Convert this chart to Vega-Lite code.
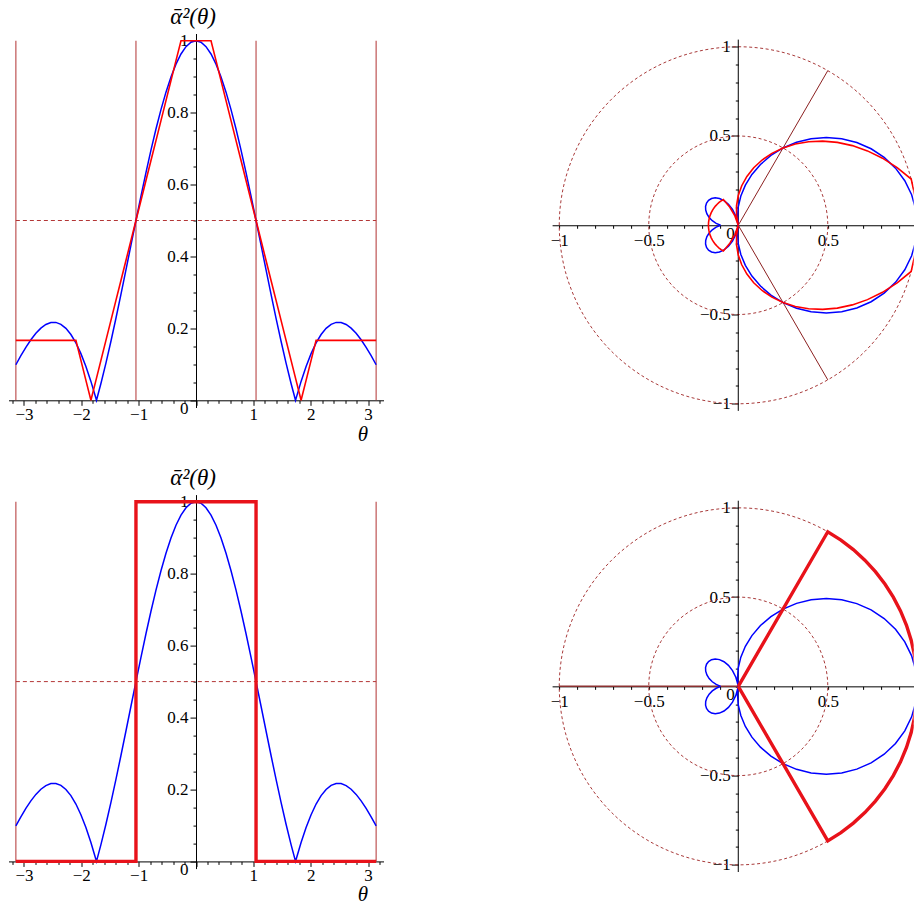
{
"$schema": "https://vega.github.io/schema/vega-lite/v6.json",
"padding": {"left": 8.5, "top": 5.5, "right": 0, "bottom": 0},
"config": {
  "view": {"stroke": null},
  "font": "Liberation Serif",
  "axis": {"title": null, "grid": false, "domainColor": "#000", "domainWidth": 1, "tickColor": "#000", "tickWidth": 1, "labelFont": "Liberation Serif", "labelFontSize": 17, "labelColor": "#000", "labelOverlap": false, "labelFlush": false, "labelBound": false}
},
"bounds": "flush",
"columns": 2,
"spacing": {"row": 83.1, "column": 168.6},
"datasets": {
  "blue": [
    {"deg":-180,"t":-3.1416,"v":0.09886,"x":-0.09886,"y":0},
    {"deg":-175,"t":-3.0543,"v":0.12395,"x":-0.12348,"y":-0.0108},
    {"deg":-170,"t":-2.9671,"v":0.14734,"x":-0.1451,"y":-0.02559},
    {"deg":-165,"t":-2.8798,"v":0.16837,"x":-0.16263,"y":-0.04358},
    {"deg":-160,"t":-2.7925,"v":0.18639,"x":-0.17515,"y":-0.06375},
    {"deg":-155,"t":-2.7053,"v":0.20078,"x":-0.18197,"y":-0.08485},
    {"deg":-150,"t":-2.618,"v":0.21097,"x":-0.18271,"y":-0.10549},
    {"deg":-145,"t":-2.5307,"v":0.21642,"x":-0.17728,"y":-0.12413},
    {"deg":-140,"t":-2.4435,"v":0.21668,"x":-0.16599,"y":-0.13928},
    {"deg":-135,"t":-2.3562,"v":0.21137,"x":-0.14946,"y":-0.14946},
    {"deg":-130,"t":-2.2689,"v":0.20019,"x":-0.12868,"y":-0.15335},
    {"deg":-125,"t":-2.1817,"v":0.18292,"x":-0.10492,"y":-0.14984},
    {"deg":-120,"t":-2.0944,"v":0.15948,"x":-0.07974,"y":-0.13811},
    {"deg":-115,"t":-2.0071,"v":0.12985,"x":-0.05488,"y":-0.11769},
    {"deg":-110,"t":-1.9199,"v":0.09415,"x":-0.0322,"y":-0.08847},
    {"deg":-105,"t":-1.8326,"v":0.0526,"x":-0.01361,"y":-0.05081},
    {"deg":-100,"t":-1.7453,"v":0.00551,"x":-0.00096,"y":-0.00543},
    {"deg":-99.45,"t":-1.7357,"v":0,"x":0,"y":0},
    {"deg":-95,"t":-1.6581,"v":0.04668,"x":-0.00407,"y":-0.0465},
    {"deg":-90,"t":-1.5708,"v":0.10344,"x":0,"y":-0.10344},
    {"deg":-85,"t":-1.4835,"v":0.16415,"x":0.01431,"y":-0.16353},
    {"deg":-80,"t":-1.3963,"v":0.2281,"x":0.03961,"y":-0.22464},
    {"deg":-75,"t":-1.309,"v":0.29453,"x":0.07623,"y":-0.2845},
    {"deg":-70,"t":-1.2217,"v":0.36259,"x":0.12401,"y":-0.34072},
    {"deg":-65,"t":-1.1345,"v":0.4314,"x":0.18232,"y":-0.39098},
    {"deg":-60,"t":-1.0472,"v":0.50004,"x":0.25002,"y":-0.43305},
    {"deg":-55,"t":-0.9599,"v":0.56758,"x":0.32555,"y":-0.46493},
    {"deg":-50,"t":-0.8727,"v":0.63309,"x":0.40694,"y":-0.48498},
    {"deg":-45,"t":-0.7854,"v":0.69564,"x":0.49189,"y":-0.49189},
    {"deg":-40,"t":-0.6981,"v":0.75434,"x":0.57786,"y":-0.48488},
    {"deg":-35,"t":-0.6109,"v":0.80835,"x":0.66216,"y":-0.46365},
    {"deg":-30,"t":-0.5236,"v":0.85689,"x":0.7421,"y":-0.42845},
    {"deg":-25,"t":-0.4363,"v":0.89925,"x":0.815,"y":-0.38004},
    {"deg":-20,"t":-0.3491,"v":0.93479,"x":0.87841,"y":-0.31972},
    {"deg":-15,"t":-0.2618,"v":0.963,"x":0.93019,"y":-0.24924},
    {"deg":-10,"t":-0.1745,"v":0.98345,"x":0.96851,"y":-0.17078},
    {"deg":-5,"t":-0.0873,"v":0.99585,"x":0.99206,"y":-0.0868},
    {"deg":0,"t":0,"v":1,"x":1,"y":0},
    {"deg":5,"t":0.0873,"v":0.99585,"x":0.99206,"y":0.0868},
    {"deg":10,"t":0.1745,"v":0.98345,"x":0.96851,"y":0.17078},
    {"deg":15,"t":0.2618,"v":0.963,"x":0.93019,"y":0.24924},
    {"deg":20,"t":0.3491,"v":0.93479,"x":0.87841,"y":0.31972},
    {"deg":25,"t":0.4363,"v":0.89925,"x":0.815,"y":0.38004},
    {"deg":30,"t":0.5236,"v":0.85689,"x":0.7421,"y":0.42845},
    {"deg":35,"t":0.6109,"v":0.80835,"x":0.66216,"y":0.46365},
    {"deg":40,"t":0.6981,"v":0.75434,"x":0.57786,"y":0.48488},
    {"deg":45,"t":0.7854,"v":0.69564,"x":0.49189,"y":0.49189},
    {"deg":50,"t":0.8727,"v":0.63309,"x":0.40694,"y":0.48498},
    {"deg":55,"t":0.9599,"v":0.56758,"x":0.32555,"y":0.46493},
    {"deg":60,"t":1.0472,"v":0.50004,"x":0.25002,"y":0.43305},
    {"deg":65,"t":1.1345,"v":0.4314,"x":0.18232,"y":0.39098},
    {"deg":70,"t":1.2217,"v":0.36259,"x":0.12401,"y":0.34072},
    {"deg":75,"t":1.309,"v":0.29453,"x":0.07623,"y":0.2845},
    {"deg":80,"t":1.3963,"v":0.2281,"x":0.03961,"y":0.22464},
    {"deg":85,"t":1.4835,"v":0.16415,"x":0.01431,"y":0.16353},
    {"deg":90,"t":1.5708,"v":0.10344,"x":0,"y":0.10344},
    {"deg":95,"t":1.6581,"v":0.04668,"x":-0.00407,"y":0.0465},
    {"deg":99.45,"t":1.7357,"v":0,"x":0,"y":0},
    {"deg":100,"t":1.7453,"v":0.00551,"x":-0.00096,"y":0.00543},
    {"deg":105,"t":1.8326,"v":0.0526,"x":-0.01361,"y":0.05081},
    {"deg":110,"t":1.9199,"v":0.09415,"x":-0.0322,"y":0.08847},
    {"deg":115,"t":2.0071,"v":0.12985,"x":-0.05488,"y":0.11769},
    {"deg":120,"t":2.0944,"v":0.15948,"x":-0.07974,"y":0.13811},
    {"deg":125,"t":2.1817,"v":0.18292,"x":-0.10492,"y":0.14984},
    {"deg":130,"t":2.2689,"v":0.20019,"x":-0.12868,"y":0.15335},
    {"deg":135,"t":2.3562,"v":0.21137,"x":-0.14946,"y":0.14946},
    {"deg":140,"t":2.4435,"v":0.21668,"x":-0.16599,"y":0.13928},
    {"deg":145,"t":2.5307,"v":0.21642,"x":-0.17728,"y":0.12413},
    {"deg":150,"t":2.618,"v":0.21097,"x":-0.18271,"y":0.10549},
    {"deg":155,"t":2.7053,"v":0.20078,"x":-0.18197,"y":0.08485},
    {"deg":160,"t":2.7925,"v":0.18639,"x":-0.17515,"y":0.06375},
    {"deg":165,"t":2.8798,"v":0.16837,"x":-0.16263,"y":0.04358},
    {"deg":170,"t":2.9671,"v":0.14734,"x":-0.1451,"y":0.02559},
    {"deg":175,"t":3.0543,"v":0.12395,"x":-0.12348,"y":0.0108},
    {"deg":180,"t":3.1416,"v":0.09886,"x":-0.09886,"y":0}
  ],
  "redA": [
    {"deg":-180,"t":-3.1416,"v":0.16667,"x":-0.16667,"y":0},
    {"deg":-175,"t":-3.0543,"v":0.16667,"x":-0.16603,"y":-0.01453},
    {"deg":-170,"t":-2.9671,"v":0.16667,"x":-0.16414,"y":-0.02894},
    {"deg":-165,"t":-2.8798,"v":0.16667,"x":-0.16099,"y":-0.04314},
    {"deg":-160,"t":-2.7925,"v":0.16667,"x":-0.15662,"y":-0.057},
    {"deg":-155,"t":-2.7053,"v":0.16667,"x":-0.15105,"y":-0.07044},
    {"deg":-150,"t":-2.618,"v":0.16667,"x":-0.14434,"y":-0.08333},
    {"deg":-145,"t":-2.5307,"v":0.16667,"x":-0.13653,"y":-0.0956},
    {"deg":-140,"t":-2.4435,"v":0.16667,"x":-0.12767,"y":-0.10713},
    {"deg":-135,"t":-2.3562,"v":0.16667,"x":-0.11785,"y":-0.11785},
    {"deg":-130,"t":-2.2689,"v":0.16667,"x":-0.10713,"y":-0.12767},
    {"deg":-125,"t":-2.1817,"v":0.16667,"x":-0.0956,"y":-0.13653},
    {"deg":-120,"t":-2.0944,"v":0.16667,"x":-0.08333,"y":-0.14434},
    {"deg":-115,"t":-2.0071,"v":0.11111,"x":-0.04696,"y":-0.1007},
    {"deg":-110,"t":-1.9199,"v":0.05556,"x":-0.019,"y":-0.05221},
    {"deg":-105,"t":-1.8326,"v":0,"x":0,"y":0},
    {"deg":-100,"t":-1.7453,"v":0.05556,"x":-0.00965,"y":-0.05471},
    {"deg":-95,"t":-1.6581,"v":0.11111,"x":-0.00968,"y":-0.11069},
    {"deg":-90,"t":-1.5708,"v":0.16667,"x":0,"y":-0.16667},
    {"deg":-85,"t":-1.4835,"v":0.22222,"x":0.01937,"y":-0.22138},
    {"deg":-80,"t":-1.3963,"v":0.27778,"x":0.04824,"y":-0.27356},
    {"deg":-75,"t":-1.309,"v":0.33333,"x":0.08627,"y":-0.32198},
    {"deg":-70,"t":-1.2217,"v":0.38889,"x":0.13301,"y":-0.36543},
    {"deg":-65,"t":-1.1345,"v":0.44444,"x":0.18783,"y":-0.4028},
    {"deg":-60,"t":-1.0472,"v":0.5,"x":0.25,"y":-0.43301},
    {"deg":-55,"t":-0.9599,"v":0.55556,"x":0.31866,"y":-0.45508},
    {"deg":-50,"t":-0.8727,"v":0.61111,"x":0.39282,"y":-0.46814},
    {"deg":-45,"t":-0.7854,"v":0.66667,"x":0.4714,"y":-0.4714},
    {"deg":-40,"t":-0.6981,"v":0.72222,"x":0.55325,"y":-0.46424},
    {"deg":-35,"t":-0.6109,"v":0.77778,"x":0.63712,"y":-0.44612},
    {"deg":-30,"t":-0.5236,"v":0.83333,"x":0.72169,"y":-0.41667},
    {"deg":-25,"t":-0.4363,"v":0.88889,"x":0.80561,"y":-0.37566},
    {"deg":-20,"t":-0.3491,"v":0.94444,"x":0.88748,"y":-0.32302},
    {"deg":-15,"t":-0.2618,"v":1,"x":0.96593,"y":-0.25882},
    {"deg":-10,"t":-0.1745,"v":1,"x":0.98481,"y":-0.17365},
    {"deg":-5,"t":-0.0873,"v":1,"x":0.99619,"y":-0.08716},
    {"deg":0,"t":0,"v":1,"x":1,"y":0},
    {"deg":5,"t":0.0873,"v":1,"x":0.99619,"y":0.08716},
    {"deg":10,"t":0.1745,"v":1,"x":0.98481,"y":0.17365},
    {"deg":15,"t":0.2618,"v":1,"x":0.96593,"y":0.25882},
    {"deg":20,"t":0.3491,"v":0.94444,"x":0.88748,"y":0.32302},
    {"deg":25,"t":0.4363,"v":0.88889,"x":0.80561,"y":0.37566},
    {"deg":30,"t":0.5236,"v":0.83333,"x":0.72169,"y":0.41667},
    {"deg":35,"t":0.6109,"v":0.77778,"x":0.63712,"y":0.44612},
    {"deg":40,"t":0.6981,"v":0.72222,"x":0.55325,"y":0.46424},
    {"deg":45,"t":0.7854,"v":0.66667,"x":0.4714,"y":0.4714},
    {"deg":50,"t":0.8727,"v":0.61111,"x":0.39282,"y":0.46814},
    {"deg":55,"t":0.9599,"v":0.55556,"x":0.31866,"y":0.45508},
    {"deg":60,"t":1.0472,"v":0.5,"x":0.25,"y":0.43301},
    {"deg":65,"t":1.1345,"v":0.44444,"x":0.18783,"y":0.4028},
    {"deg":70,"t":1.2217,"v":0.38889,"x":0.13301,"y":0.36543},
    {"deg":75,"t":1.309,"v":0.33333,"x":0.08627,"y":0.32198},
    {"deg":80,"t":1.3963,"v":0.27778,"x":0.04824,"y":0.27356},
    {"deg":85,"t":1.4835,"v":0.22222,"x":0.01937,"y":0.22138},
    {"deg":90,"t":1.5708,"v":0.16667,"x":0,"y":0.16667},
    {"deg":95,"t":1.6581,"v":0.11111,"x":-0.00968,"y":0.11069},
    {"deg":100,"t":1.7453,"v":0.05556,"x":-0.00965,"y":0.05471},
    {"deg":105,"t":1.8326,"v":0,"x":0,"y":0},
    {"deg":110,"t":1.9199,"v":0.05556,"x":-0.019,"y":0.05221},
    {"deg":115,"t":2.0071,"v":0.11111,"x":-0.04696,"y":0.1007},
    {"deg":120,"t":2.0944,"v":0.16667,"x":-0.08333,"y":0.14434},
    {"deg":125,"t":2.1817,"v":0.16667,"x":-0.0956,"y":0.13653},
    {"deg":130,"t":2.2689,"v":0.16667,"x":-0.10713,"y":0.12767},
    {"deg":135,"t":2.3562,"v":0.16667,"x":-0.11785,"y":0.11785},
    {"deg":140,"t":2.4435,"v":0.16667,"x":-0.12767,"y":0.10713},
    {"deg":145,"t":2.5307,"v":0.16667,"x":-0.13653,"y":0.0956},
    {"deg":150,"t":2.618,"v":0.16667,"x":-0.14434,"y":0.08333},
    {"deg":155,"t":2.7053,"v":0.16667,"x":-0.15105,"y":0.07044},
    {"deg":160,"t":2.7925,"v":0.16667,"x":-0.15662,"y":0.057},
    {"deg":165,"t":2.8798,"v":0.16667,"x":-0.16099,"y":0.04314},
    {"deg":170,"t":2.9671,"v":0.16667,"x":-0.16414,"y":0.02894},
    {"deg":175,"t":3.0543,"v":0.16667,"x":-0.16603,"y":0.01453},
    {"deg":180,"t":3.1416,"v":0.16667,"x":-0.16667,"y":0}
  ],
  "redBcart": [
    {"i":0,"t":-3.1416,"v":0},
    {"i":1,"t":-1.0472,"v":0},
    {"i":2,"t":-1.0472,"v":1},
    {"i":3,"t":1.0472,"v":1},
    {"i":4,"t":1.0472,"v":0},
    {"i":5,"t":3.1416,"v":0}
  ],
  "redBpolar": [
    {"i":0,"x":0,"y":0},
    {"i":1,"x":0.5,"y":0.86603},
    {"i":2,"x":0.57358,"y":0.81915},
    {"i":3,"x":0.64279,"y":0.76604},
    {"i":4,"x":0.70711,"y":0.70711},
    {"i":5,"x":0.76604,"y":0.64279},
    {"i":6,"x":0.81915,"y":0.57358},
    {"i":7,"x":0.86603,"y":0.5},
    {"i":8,"x":0.90631,"y":0.42262},
    {"i":9,"x":0.93969,"y":0.34202},
    {"i":10,"x":0.96593,"y":0.25882},
    {"i":11,"x":0.98481,"y":0.17365},
    {"i":12,"x":0.99619,"y":0.08716},
    {"i":13,"x":1,"y":0},
    {"i":14,"x":0.99619,"y":-0.08716},
    {"i":15,"x":0.98481,"y":-0.17365},
    {"i":16,"x":0.96593,"y":-0.25882},
    {"i":17,"x":0.93969,"y":-0.34202},
    {"i":18,"x":0.90631,"y":-0.42262},
    {"i":19,"x":0.86603,"y":-0.5},
    {"i":20,"x":0.81915,"y":-0.57358},
    {"i":21,"x":0.76604,"y":-0.64279},
    {"i":22,"x":0.70711,"y":-0.70711},
    {"i":23,"x":0.64279,"y":-0.76604},
    {"i":24,"x":0.57358,"y":-0.81915},
    {"i":25,"x":0.5,"y":-0.86603},
    {"i":26,"x":0,"y":0}
  ],
  "circ": [
    {"r":1,"a":0,"x":1,"y":0},{"r":1,"a":15,"x":0.96593,"y":0.25882},{"r":1,"a":30,"x":0.86603,"y":0.5},{"r":1,"a":45,"x":0.70711,"y":0.70711},
    {"r":1,"a":60,"x":0.5,"y":0.86603},{"r":1,"a":75,"x":0.25882,"y":0.96593},{"r":1,"a":90,"x":0,"y":1},{"r":1,"a":105,"x":-0.25882,"y":0.96593},
    {"r":1,"a":120,"x":-0.5,"y":0.86603},{"r":1,"a":135,"x":-0.70711,"y":0.70711},{"r":1,"a":150,"x":-0.86603,"y":0.5},{"r":1,"a":165,"x":-0.96593,"y":0.25882},
    {"r":1,"a":180,"x":-1,"y":0},{"r":1,"a":195,"x":-0.96593,"y":-0.25882},{"r":1,"a":210,"x":-0.86603,"y":-0.5},{"r":1,"a":225,"x":-0.70711,"y":-0.70711},
    {"r":1,"a":240,"x":-0.5,"y":-0.86603},{"r":1,"a":255,"x":-0.25882,"y":-0.96593},{"r":1,"a":270,"x":0,"y":-1},{"r":1,"a":285,"x":0.25882,"y":-0.96593},
    {"r":1,"a":300,"x":0.5,"y":-0.86603},{"r":1,"a":315,"x":0.70711,"y":-0.70711},{"r":1,"a":330,"x":0.86603,"y":-0.5},{"r":1,"a":345,"x":0.96593,"y":-0.25882},
    {"r":0.5,"a":0,"x":0.5,"y":0},{"r":0.5,"a":15,"x":0.48296,"y":0.12941},{"r":0.5,"a":30,"x":0.43301,"y":0.25},{"r":0.5,"a":45,"x":0.35355,"y":0.35355},
    {"r":0.5,"a":60,"x":0.25,"y":0.43301},{"r":0.5,"a":75,"x":0.12941,"y":0.48296},{"r":0.5,"a":90,"x":0,"y":0.5},{"r":0.5,"a":105,"x":-0.12941,"y":0.48296},
    {"r":0.5,"a":120,"x":-0.25,"y":0.43301},{"r":0.5,"a":135,"x":-0.35355,"y":0.35355},{"r":0.5,"a":150,"x":-0.43301,"y":0.25},{"r":0.5,"a":165,"x":-0.48296,"y":0.12941},
    {"r":0.5,"a":180,"x":-0.5,"y":0},{"r":0.5,"a":195,"x":-0.48296,"y":-0.12941},{"r":0.5,"a":210,"x":-0.43301,"y":-0.25},{"r":0.5,"a":225,"x":-0.35355,"y":-0.35355},
    {"r":0.5,"a":240,"x":-0.25,"y":-0.43301},{"r":0.5,"a":255,"x":-0.12941,"y":-0.48296},{"r":0.5,"a":270,"x":0,"y":-0.5},{"r":0.5,"a":285,"x":0.12941,"y":-0.48296},
    {"r":0.5,"a":300,"x":0.25,"y":-0.43301},{"r":0.5,"a":315,"x":0.35355,"y":-0.35355},{"r":0.5,"a":330,"x":0.43301,"y":-0.25},{"r":0.5,"a":345,"x":0.48296,"y":-0.12941}
  ],
  "raysA": [{"x":0,"y":0,"x2":0.5,"y2":0.86603},{"x":0,"y":0,"x2":0.5,"y2":-0.86603}],
  "raysB": [{"x":0,"y":0,"x2":0.5,"y2":0.86603},{"x":0,"y":0,"x2":0.5,"y2":-0.86603},{"x":0,"y":0,"x2":-1,"y2":0}],
  "yaxis": [{"x":0,"y":-1.04,"y2":1.04}],
  "vlines": [{"t":-3.1416,"v":0,"v2":1},{"t":-1.0472,"v":0,"v2":1},{"t":1.0472,"v":0,"v2":1},{"t":3.1416,"v":0,"v2":1}],
  "hline": [{"t":-3.1416,"t2":3.1416,"v":0.5}],
  "ttl": [{"t":-0.05,"v":1.02,"label":"ᾱ²(θ)"}],
  "thl": [{"t":2.91,"v":0,"label":"θ"}]
},
"concat": [
  {
    "width": 375, "height": 374,
    "encoding": {
      "x": {"field": "t", "type": "quantitative", "scale": {"domain": [-3.27, 3.27], "nice": false, "zero": false},
        "axis": {"orient": "bottom", "offset": -7.19, "values": [-3.2,-3,-2.8,-2.6,-2.4,-2.2,-2,-1.8,-1.6,-1.4,-1.2,-1,-0.8,-0.6,-0.4,-0.2,0,0.2,0.4,0.6,0.8,1,1.2,1.4,1.6,1.8,2,2.2,2.4,2.6,2.8,3,3.2],
          "labelExpr": "abs(datum.value-round(datum.value))<0.001 && abs(datum.value)>0.001 ? format(datum.value,'d') : ''",
          "tickSize": {"condition": {"test": "abs(datum.value-round(datum.value))<0.001", "value": 5}, "value": 3}, "labelPadding": 1}},
      "y": {"field": "v", "type": "quantitative", "scale": {"domain": [-0.02, 1.02], "nice": false, "zero": false},
        "axis": {"orient": "left", "offset": -187.5, "values": [0,0.05,0.1,0.15,0.2,0.25,0.3,0.35,0.4,0.45,0.5,0.55,0.6,0.65,0.7,0.75,0.8,0.85,0.9,0.95,1],
          "labelExpr": "abs(datum.value*5-round(datum.value*5))<0.001 ? format(datum.value,'~g') : ''",
          "tickSize": {"condition": {"test": "abs(datum.value*5-round(datum.value*5))<0.001", "value": 6}, "value": 3},
          "labelPadding": 2, "labelBaseline": {"condition": {"test": "datum.value==0", "value": "top"}, "value": "middle"}}}
    },
    "layer": [
      {"data": {"name": "vlines"}, "mark": {"type": "rule", "color": "#b33636", "strokeWidth": 1.2, "opacity": 0.85}, "encoding": {"y2": {"field": "v2"}}},
      {"data": {"name": "hline"}, "mark": {"type": "rule", "color": "#b33636", "strokeWidth": 1, "strokeDash": [4, 3]}, "encoding": {"x2": {"field": "t2"}}},
      {"data": {"name": "blue"}, "mark": {"type": "line", "color": "#0000ff", "strokeWidth": 1.5}, "encoding": {"order": {"field": "deg", "type": "quantitative"}}},
      {"data": {"name": "redA"}, "mark": {"type": "line", "color": "#ff0000", "strokeWidth": 1.6}, "encoding": {"order": {"field": "deg", "type": "quantitative"}}},
      {"data": {"name": "ttl"}, "mark": {"type": "text", "font": "Liberation Serif", "fontSize": 23, "fontStyle": "italic", "align": "center", "baseline": "alphabetic", "dy": -9.3, "color": "#000"}, "encoding": {"text": {"field": "label", "type": "nominal"}}},
      {"data": {"name": "thl"}, "mark": {"type": "text", "font": "Liberation Serif", "fontSize": 21, "fontStyle": "italic", "align": "center", "baseline": "alphabetic", "dy": 41, "color": "#000"}, "encoding": {"text": {"field": "label", "type": "nominal"}}}
    ]
  },
  {
    "width": 361.6, "height": 377.4,
    "encoding": {
      "x": {"field": "x", "type": "quantitative", "scale": {"domain": [-1.04, 0.98], "nice": false, "zero": false},
        "axis": {"orient": "bottom", "offset": -185.65, "values": [-1,-0.9,-0.8,-0.7,-0.6,-0.5,-0.4,-0.3,-0.2,-0.1,0,0.1,0.2,0.3,0.4,0.5,0.6,0.7,0.8,0.9],
          "labelExpr": "abs(datum.value*2-round(datum.value*2))<0.001 && abs(datum.value)>0.001 ? format(datum.value,'~g') : ''",
          "tickSize": 3, "labelPadding": 4}},
      "y": {"field": "y", "type": "quantitative", "scale": {"domain": [-1.04, 1.0742], "nice": false, "zero": false},
        "axis": {"orient": "left", "offset": -186.2, "domain": false, "values": [-1,-0.9,-0.8,-0.7,-0.6,-0.5,-0.4,-0.3,-0.2,-0.1,0,0.1,0.2,0.3,0.4,0.5,0.6,0.7,0.8,0.9,1],
          "labelExpr": "abs(datum.value*2-round(datum.value*2))<0.001 ? format(datum.value,'~g') : ''",
          "tickSize": {"condition": {"test": "abs(datum.value*2-round(datum.value*2))<0.001 && abs(datum.value)>0.001", "value": 7}, "value": 3},
          "labelPadding": 1, "labelBaseline": {"condition": {"test": "datum.value==0", "value": "top"}, "value": "middle"}}}
    },
    "layer": [
      {"data": {"name": "circ"}, "mark": {"type": "line", "interpolate": "cardinal-closed", "color": "#a83a3a", "strokeWidth": 1, "strokeDash": [3, 2.5], "clip": true}, "encoding": {"detail": {"field": "r", "type": "nominal"}, "order": {"field": "a", "type": "quantitative"}}},
      {"data": {"name": "yaxis"}, "mark": {"type": "rule", "color": "#000", "strokeWidth": 1}, "encoding": {"y2": {"field": "y2"}}},
      {"data": {"name": "raysA"}, "mark": {"type": "rule", "color": "#8b2020", "strokeWidth": 1}, "encoding": {"x2": {"field": "x2"}, "y2": {"field": "y2"}}},
      {"data": {"name": "blue"}, "mark": {"type": "line", "color": "#0000ff", "strokeWidth": 1.5, "clip": true}, "encoding": {"order": {"field": "deg", "type": "quantitative"}}},
      {"data": {"name": "redA"}, "mark": {"type": "line", "color": "#ff0000", "strokeWidth": 1.6, "clip": true}, "encoding": {"order": {"field": "deg", "type": "quantitative"}}}
    ]
  },
  {
    "width": 375, "height": 374,
    "encoding": {
      "x": {"field": "t", "type": "quantitative", "scale": {"domain": [-3.27, 3.27], "nice": false, "zero": false},
        "axis": {"orient": "bottom", "offset": -7.19, "values": [-3.2,-3,-2.8,-2.6,-2.4,-2.2,-2,-1.8,-1.6,-1.4,-1.2,-1,-0.8,-0.6,-0.4,-0.2,0,0.2,0.4,0.6,0.8,1,1.2,1.4,1.6,1.8,2,2.2,2.4,2.6,2.8,3,3.2],
          "labelExpr": "abs(datum.value-round(datum.value))<0.001 && abs(datum.value)>0.001 ? format(datum.value,'d') : ''",
          "tickSize": {"condition": {"test": "abs(datum.value-round(datum.value))<0.001", "value": 5}, "value": 3}, "labelPadding": 1}},
      "y": {"field": "v", "type": "quantitative", "scale": {"domain": [-0.02, 1.02], "nice": false, "zero": false},
        "axis": {"orient": "left", "offset": -187.5, "values": [0,0.05,0.1,0.15,0.2,0.25,0.3,0.35,0.4,0.45,0.5,0.55,0.6,0.65,0.7,0.75,0.8,0.85,0.9,0.95,1],
          "labelExpr": "abs(datum.value*5-round(datum.value*5))<0.001 ? format(datum.value,'~g') : ''",
          "tickSize": {"condition": {"test": "abs(datum.value*5-round(datum.value*5))<0.001", "value": 6}, "value": 3},
          "labelPadding": 2, "labelBaseline": {"condition": {"test": "datum.value==0", "value": "top"}, "value": "middle"}}}
    },
    "layer": [
      {"data": {"name": "vlines"}, "mark": {"type": "rule", "color": "#b33636", "strokeWidth": 1.2, "opacity": 0.85}, "encoding": {"y2": {"field": "v2"}}},
      {"data": {"name": "hline"}, "mark": {"type": "rule", "color": "#b33636", "strokeWidth": 1, "strokeDash": [4, 3]}, "encoding": {"x2": {"field": "t2"}}},
      {"data": {"name": "blue"}, "mark": {"type": "line", "color": "#0000ff", "strokeWidth": 1.5}, "encoding": {"order": {"field": "deg", "type": "quantitative"}}},
      {"data": {"name": "redBcart"}, "mark": {"type": "line", "color": "#e8121a", "strokeWidth": 3.4, "strokeJoin": "miter"}, "encoding": {"order": {"field": "i", "type": "quantitative"}}},
      {"data": {"name": "ttl"}, "mark": {"type": "text", "font": "Liberation Serif", "fontSize": 23, "fontStyle": "italic", "align": "center", "baseline": "alphabetic", "dy": -9.3, "color": "#000"}, "encoding": {"text": {"field": "label", "type": "nominal"}}},
      {"data": {"name": "thl"}, "mark": {"type": "text", "font": "Liberation Serif", "fontSize": 21, "fontStyle": "italic", "align": "center", "baseline": "alphabetic", "dy": 40, "color": "#000"}, "encoding": {"text": {"field": "label", "type": "nominal"}}}
    ]
  },
  {
    "width": 361.6, "height": 377.4,
    "encoding": {
      "x": {"field": "x", "type": "quantitative", "scale": {"domain": [-1.04, 0.98], "nice": false, "zero": false},
        "axis": {"orient": "bottom", "offset": -185.65, "values": [-1,-0.9,-0.8,-0.7,-0.6,-0.5,-0.4,-0.3,-0.2,-0.1,0,0.1,0.2,0.3,0.4,0.5,0.6,0.7,0.8,0.9],
          "labelExpr": "abs(datum.value*2-round(datum.value*2))<0.001 && abs(datum.value)>0.001 ? format(datum.value,'~g') : ''",
          "tickSize": 3, "labelPadding": 4}},
      "y": {"field": "y", "type": "quantitative", "scale": {"domain": [-1.04, 1.0742], "nice": false, "zero": false},
        "axis": {"orient": "left", "offset": -186.2, "domain": false, "values": [-1,-0.9,-0.8,-0.7,-0.6,-0.5,-0.4,-0.3,-0.2,-0.1,0,0.1,0.2,0.3,0.4,0.5,0.6,0.7,0.8,0.9,1],
          "labelExpr": "abs(datum.value*2-round(datum.value*2))<0.001 ? format(datum.value,'~g') : ''",
          "tickSize": {"condition": {"test": "abs(datum.value*2-round(datum.value*2))<0.001 && abs(datum.value)>0.001", "value": 7}, "value": 3},
          "labelPadding": 1, "labelBaseline": {"condition": {"test": "datum.value==0", "value": "top"}, "value": "middle"}}}
    },
    "layer": [
      {"data": {"name": "circ"}, "mark": {"type": "line", "interpolate": "cardinal-closed", "color": "#a83a3a", "strokeWidth": 1, "strokeDash": [3, 2.5], "clip": true}, "encoding": {"detail": {"field": "r", "type": "nominal"}, "order": {"field": "a", "type": "quantitative"}}},
      {"data": {"name": "yaxis"}, "mark": {"type": "rule", "color": "#000", "strokeWidth": 1}, "encoding": {"y2": {"field": "y2"}}},
      {"data": {"name": "raysB"}, "mark": {"type": "rule", "color": "#8b3030", "strokeWidth": 1.5}, "encoding": {"x2": {"field": "x2"}, "y2": {"field": "y2"}}},
      {"data": {"name": "blue"}, "mark": {"type": "line", "color": "#0000ff", "strokeWidth": 1.5, "clip": true}, "encoding": {"order": {"field": "deg", "type": "quantitative"}}},
      {"data": {"name": "redBpolar"}, "mark": {"type": "line", "color": "#e8121a", "strokeWidth": 3.4, "strokeJoin": "miter", "clip": true}, "encoding": {"order": {"field": "i", "type": "quantitative"}}}
    ]
  }
]
}
